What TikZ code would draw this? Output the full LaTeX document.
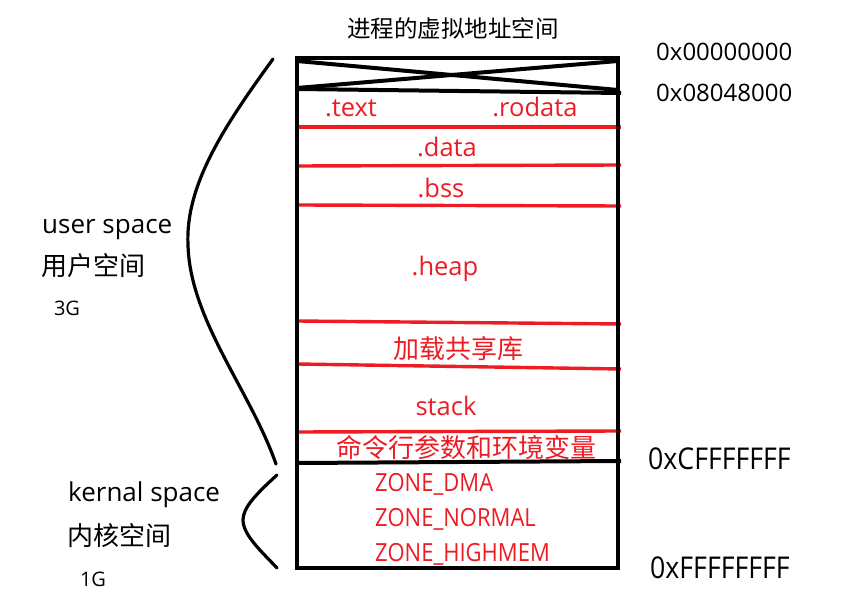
\documentclass[tikz,border=0pt]{standalone}
\usepackage{fontspec}
\setmainfont{Open Sans}
\newfontfamily\cjk{Noto Sans CJK SC}
\definecolor{pred}{HTML}{ED1C24}
\begin{document}
\begin{tikzpicture}[x=1pt,y=-1pt,
  lbl/.style={inner sep=0pt, anchor=base},
  blk/.style={lbl, font=\fontsize{26}{26}\selectfont},
  blkcjk/.style={lbl, font=\cjk\fontsize{26}{26}\selectfont},
  small/.style={lbl, font=\fontsize{20}{20}\selectfont},
  addr/.style={lbl, anchor=base west, font=\fontsize{24}{24}\selectfont},
  addrc/.style={lbl, anchor=base west, xscale=0.89, font=\fontsize{30}{30}\selectfont},
  redtxt/.style={lbl, text=pred, font=\fontsize{25.5}{25.5}\selectfont},
  redcjk/.style={lbl, text=pred, font=\cjk\fontsize{26}{26}\selectfont},
  zone/.style={lbl, anchor=base west, text=pred, xscale=0.88, font=\fontsize{25}{25}\selectfont},
  frame/.style={line width=4pt, black},
  sep/.style={line width=3.4pt, pred},
  brace/.style={line width=3.2pt, black, line cap=round}]
\useasboundingbox (0,0) rectangle (846,601);
% title
\node[lbl, font=\cjk\fontsize{23.5}{23.5}\selectfont] (title) at (453,38) {进程的虚拟地址空间};
% red separators
\draw[sep] (297,127) -- (621,127);
\draw[sep] (297,166) -- (621,165);
\draw[sep] (297,205) -- (621,206);
\draw[sep] (297,321) -- (621,324);
\draw[sep] (297,364) -- (621,369);
\draw[sep] (297,432) -- (621,431);
% frame
\draw[frame] (297,58) rectangle (618,568);
\draw[frame] (297,89) -- (621,93);
\draw[frame] (297,61) -- (618,90);
\draw[frame] (297,88) -- (618,61);
\draw[frame] (297,463) -- (621,461);
% segment labels
\node[redtxt] (text) at (351,117) {.text};
\node[redtxt] (rodata) at (535,117) {.rodata};
\node[redtxt] (data) at (447,157) {.data};
\node[redtxt] (bss) at (441,198) {.bss};
\node[redtxt] (heap) at (445,276) {.heap};
\node[redcjk] (shlib) at (458,359) {加载共享库};
\node[redtxt] (stack) at (446,415) {stack};
\node[redcjk] (env) at (466,457) {命令行参数和环境变量};
\node[zone] (dma) at (375,491) {ZONE\_DMA};
\node[zone] (normal) at (375,526) {ZONE\_NORMAL};
\node[zone] (high) at (375,561) {ZONE\_HIGHMEM};
% addresses
\node[addr] (a0) at (656,61) {0x00000000};
\node[addr] (a1) at (656,102) {0x08048000};
\node[addrc] (a2) at (648,469) {0xCFFFFFFF};
\node[addrc] (a3) at (650,578) {0xFFFFFFFF};
% left labels
\node[blk, anchor=base west] (user) at (42,234) {user space};
\node[blkcjk, anchor=base west] (usercn) at (41,276) {用户空间};
\node[small] (g3) at (67,316) {3G};
\node[blk, anchor=base west] (kern) at (68,501) {kernal space};
\node[blkcjk, anchor=base west] (kerncn) at (67,545) {内核空间};
\node[small] (g1) at (93,586) {1G};
% braces
\draw[brace] (273,59) .. controls (225,125) and (185,185) .. (188,245)
  .. controls (190,320) and (250,390) .. (276,464);
\draw[brace] (277,475) .. controls (255,495) and (243,508) .. (243,520)
  .. controls (243,535) and (262,552) .. (277,568);
\end{tikzpicture}
\end{document}
